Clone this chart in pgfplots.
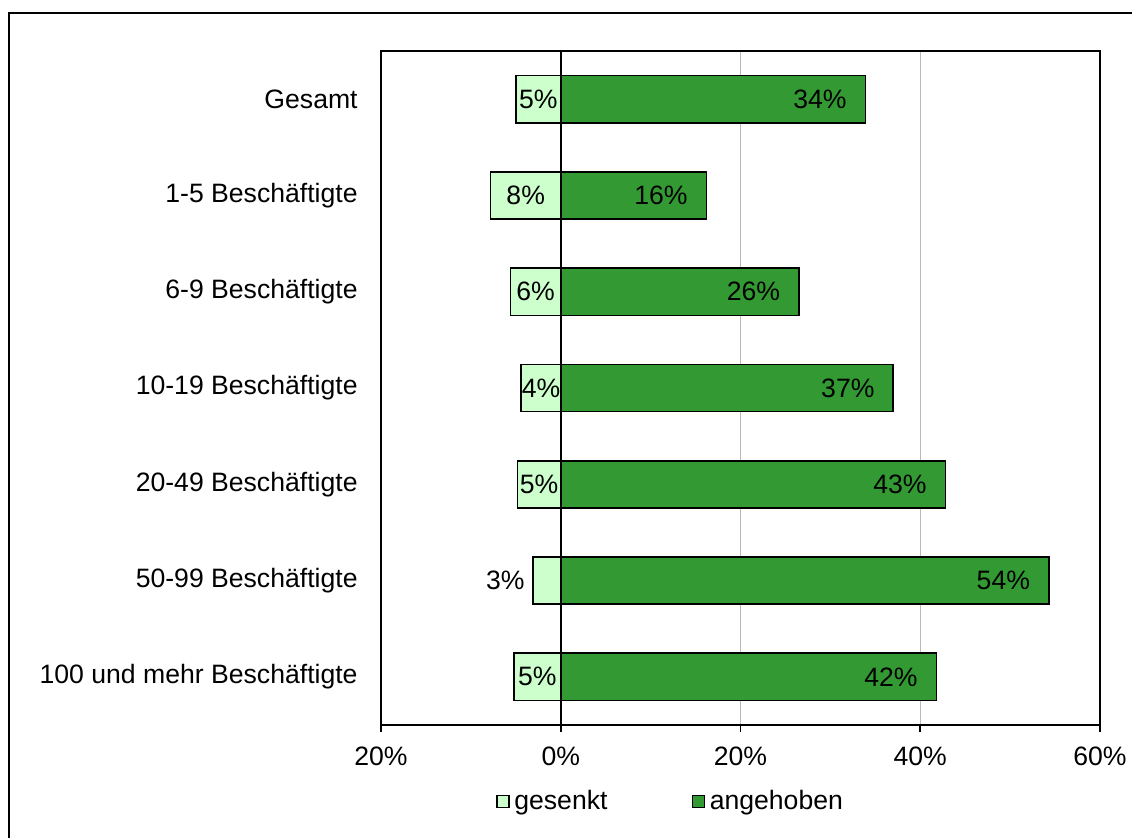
\documentclass[border=0pt]{standalone}
\usepackage{pgfplots}
\pgfplotsset{compat=1.18}
\usepackage{pgfplotstable}
\usepackage{fontspec}
\setmainfont{Liberation Sans}
\definecolor{lightg}{RGB}{204,255,204}
\definecolor{darkg}{RGB}{51,153,51}
\pgfplotstableread{
y g a gl al
1 -5.0 33.9 5 34
2 -7.8 16.2 8 16
3 -5.6 26.5 6 26
4 -4.4 37.0 4 37
5 -4.8 42.8 5 43
6 -3.1 54.3 3 54
7 -5.2 41.8 5 42
}\data
\begin{document}
\begin{tikzpicture}[font=\fontsize{13.3pt}{16pt}\selectfont]
\useasboundingbox (0,0) rectangle (566pt,-419pt);
\draw[line width=1pt] (4.5pt,-6.35pt) rectangle (600pt,-460pt);
\begin{axis}[
  at={(190.5pt,-362.5pt)}, anchor=south west,
  scale only axis, width=359.5pt, height=337pt,
  xmin=-20, xmax=60, ymin=0.5, ymax=7.5, y dir=reverse,
  enlargelimits=false, clip=false,
  /pgf/number format/assume math mode=true,
  axis line style={black, line width=0.9pt},
  xtick={-20,0,20,40,60},
  xticklabels={20\%,0\%,20\%,40\%,60\%},
  xtick pos=bottom, tick align=outside, major tick length=3.5pt,
  x tick style={black, line width=0.9pt},
  xticklabel style={inner sep=0pt, anchor=north, yshift=-7.5pt},
  ytick={1,2,3,4,5,6,7},
  yticklabels={Gesamt,1-5 Beschäftigte,6-9 Beschäftigte,10-19 Beschäftigte,20-49 Beschäftigte,50-99 Beschäftigte,100 und mehr Beschäftigte},
  y tick style={draw=none},
  yticklabel style={anchor=east, inner sep=0pt, xshift=-8pt},
  xmajorgrids, grid style={gray!55, line width=0.5pt},
  extra x ticks={0}, extra x tick labels={},
  extra x tick style={grid style={black, line width=0.9pt}, major tick length=3.5pt},
  legend columns=2,
  legend style={draw=none, fill=none, inner sep=0pt, at={(axis description cs:0.16,-0.114)}, anchor=west,
    /tikz/every even column/.append style={column sep=41pt},
    nodes={inner sep=1.2pt}},
  legend image code/.code={\draw[#1, line width=0.7pt] (0pt,-2.7pt) rectangle (6pt,3.3pt); \path (7pt,0pt);},
]
\addplot[xbar, bar shift=0pt, bar width=0.49, fill=lightg, draw=black, line width=0.8pt] table[x=g, y=y] {\data};
\addlegendentry{gesenkt}
\addplot[xbar, bar shift=0pt, bar width=0.49, fill=darkg, draw=black, line width=0.8pt,
  point meta=explicit, nodes near coords={\pgfmathprintnumber{\pgfplotspointmeta}\%},
  nodes near coords style={anchor=east, inner sep=0pt, xshift=-9pt, black}] table[x=a, y=y, meta=al] {\data};
\addlegendentry{angehoben}
\addplot[draw=none, mark=none, forget plot, skip coords between index={5}{6},
  point meta=explicit, nodes near coords={\pgfmathprintnumber{\pgfplotspointmeta}\%},
  nodes near coords style={anchor=center, inner sep=0pt, black}] table[x expr=\thisrow{g}/2, y=y, meta=gl] {\data};
\addplot[draw=none, mark=none, forget plot, restrict y to domain=5.5:6.5,
  point meta=explicit, nodes near coords={\pgfmathprintnumber{\pgfplotspointmeta}\%},
  nodes near coords style={anchor=east, inner sep=0pt, xshift=-4pt, black}] table[x=g, y=y, meta=gl] {\data};
\end{axis}
\end{tikzpicture}
\end{document}
